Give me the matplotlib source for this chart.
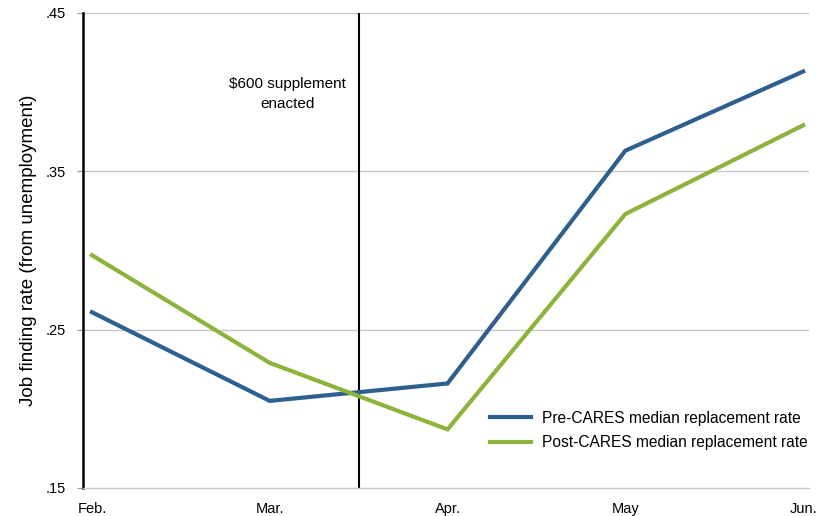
import numpy as np
import matplotlib
matplotlib.use("Agg")
import matplotlib.pyplot as plt

plt.rcParams['font.family'] = ['Liberation Sans', 'DejaVu Sans']

# ============================================================
# DATA
# ============================================================

months = ["Feb.", "Mar.", "Apr.", "May", "Jun."]
pre_cares = [0.261, 0.205, 0.216, 0.363, 0.413]
post_cares = [0.297, 0.229, 0.187, 0.323, 0.379]
y_ticks = [0.15, 0.25, 0.35, 0.45]
y_tick_labels = [".15", ".25", ".35", ".45"]
enacted_at = 1.5

BLUE = "#2F5F8C"
GREEN = "#8CB43C"

# ============================================================
# PLOT
# ============================================================

fig = plt.figure(figsize=(8.17, 5.16), dpi=100)
ax = fig.add_axes([0.1016, 0.0543, 0.888, 0.9207])

x = np.arange(len(months))

for yv in y_ticks[1:]:
    ax.axhline(yv, color="#c8c8c8", lw=1, zorder=0)

ax.plot(x, pre_cares, color=BLUE, lw=3, label="Pre-CARES median replacement rate",
        solid_joinstyle="miter", zorder=3)
ax.plot(x, post_cares, color=GREEN, lw=3, label="Post-CARES median replacement rate",
        solid_joinstyle="miter", zorder=3)

ax.axvline(enacted_at, color="black", lw=1.5, zorder=2)
ax.text(1.1, 0.3985, "\\$600 supplement\nenacted", ha="center", va="center",
        fontsize=11, linespacing=1.55)

ax.set_xlim(-0.05, 4.03)
ax.set_ylim(0.15, 0.45)
ax.set_xticks(x)
ax.set_xticklabels(months, fontsize=10.5)
ax.set_yticks(y_ticks)
ax.set_yticklabels(y_tick_labels, fontsize=10.5)
ax.tick_params(axis="x", length=0, pad=10)
ax.tick_params(axis="y", length=4.5, color="#999999", pad=8)

ax.set_ylabel("Job finding rate (from unemployment)", fontsize=13.5, labelpad=6)

for side in ["top", "right"]:
    ax.spines[side].set_visible(False)
ax.spines["left"].set_color("black")
ax.spines["left"].set_linewidth(1.8)
ax.spines["bottom"].set_color("#c8c8c8")
ax.spines["bottom"].set_linewidth(1)

ax.legend(loc="lower right", bbox_to_anchor=(1.018, 0.05), frameon=False,
          fontsize=11.2, handlelength=2.6, handletextpad=0.7, labelspacing=0.6)

fig.savefig("out.png", dpi=100)
